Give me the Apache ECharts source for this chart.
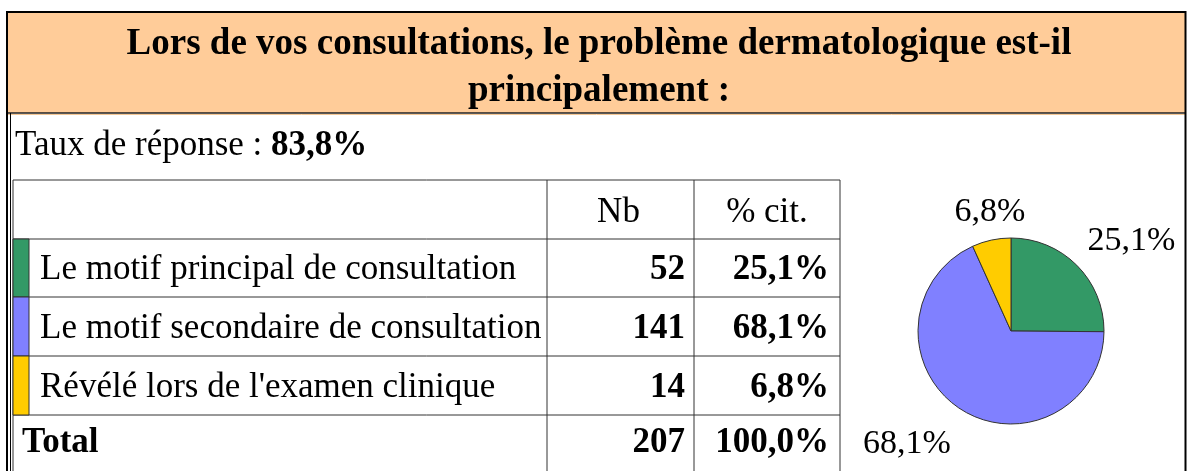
<!DOCTYPE html>
<html>
<head>
<meta charset="utf-8">
<script src="https://cdn.jsdelivr.net/npm/echarts@6/dist/echarts.min.js"></script>
<style>
html, body { margin: 0; padding: 0; background: #fff; }
#chart { width: 1190px; height: 471px; }
</style>
</head>
<body>
<div id="chart"></div>
<script>
// donnees du tableau
var titleLines = ['Lors de vos consultations, le problème dermatologique est-il', 'principalement :'];
var responseLabel = 'Taux de réponse : ';
var responseRate = '83,8%';
var colHeaders = ['Nb', '% cit.'];
var categories = ['Le motif principal de consultation', 'Le motif secondaire de consultation', "Révélé lors de l'examen clinique"];
var counts = [52, 141, 14];
var citPercents = ['25,1%', '68,1%', '6,8%'];
var totalLabel = 'Total';
var totalCount = 207;
var totalPercent = '100,0%';

var sliceColors = ['#339966', '#8080FF', '#FFCC00'];
var labelOffsets = [[19, 11], [-26, -7], [9, 21]];

var FONT = '"Liberation Serif", "Times New Roman", serif';
var colX = [13, 547, 694, 840];
var rowY = [180, 239, 297, 356, 415, 480];

function txt(x, y, s, size, weight, align) {
    return {
        type: 'text', x: x, y: y, silent: true,
        style: {
            text: s, font: (weight || 'normal') + ' ' + size + 'px ' + FONT,
            fill: '#000', align: align || 'left', verticalAlign: 'middle'
        }
    };
}
function line(x1, y1, x2, y2, w, c) {
    return {
        type: 'line', silent: true,
        shape: { x1: x1, y1: y1, x2: x2, y2: y2 },
        style: { stroke: c || '#333', lineWidth: w || 1 }
    };
}

var g = [];
// bandeau titre
g.push({ type: 'rect', shape: { x: 7, y: 12, width: 1178, height: 101 }, style: { fill: '#FFCC99', stroke: null } });
g.push(line(7, 12, 1186, 12, 2, '#000'));
g.push(line(7, 113, 1186, 113, 1.5, '#222'));
g.push(line(7, 114.5, 1186, 114.5, 1, '#F5C896'));
g.push(line(7, 11, 7, 480, 2, '#000'));
g.push(line(10.5, 113, 10.5, 480, 1, '#000'));
g.push(line(1185.5, 11, 1185.5, 480, 2, '#000'));
g.push(txt(599, 44, titleLines[0], 37, 'bold', 'center'));
g.push(txt(599, 91, titleLines[1], 37, 'bold', 'center'));

// taux de reponse
g.push({
    type: 'text', x: 15, y: 146, silent: true,
    style: {
        text: '{a|' + responseLabel + '}{b|' + responseRate + '}',
        verticalAlign: 'middle',
        rich: {
            a: { font: 'normal 35px ' + FONT, fill: '#000' },
            b: { font: 'bold 35px ' + FONT, fill: '#000' }
        }
    }
});

// grille du tableau
for (var r = 0; r < rowY.length; r++) g.push(line(colX[0], rowY[r], colX[3], rowY[r], 1));
for (var c = 0; c < colX.length; c++) g.push(line(colX[c], rowY[0], colX[c], rowY[rowY.length - 1], 1));

g.push(txt((colX[1] + colX[2]) / 2 - 2, 213, colHeaders[0], 35, 'normal', 'center'));
g.push(txt((colX[2] + colX[3]) / 2, 213, colHeaders[1], 35, 'normal', 'center'));

for (var i = 0; i < categories.length; i++) {
    var cy = (rowY[i + 1] + rowY[i + 2]) / 2 + 2;
    g.push({ type: 'rect', silent: true, shape: { x: colX[0], y: rowY[i + 1], width: 16, height: rowY[i + 2] - rowY[i + 1] },
        style: { fill: sliceColors[i], stroke: '#333', lineWidth: 1 } });
    g.push(txt(40, cy, categories[i], 35));
    g.push(txt(colX[2] - 9, cy, String(counts[i]), 35, 'bold', 'right'));
    g.push(txt(colX[3] - 11, cy, citPercents[i], 35, 'bold', 'right'));
}
g.push(txt(22, 443, totalLabel, 35, 'bold'));
g.push(txt(colX[2] - 9, 443, String(totalCount), 35, 'bold', 'right'));
g.push(txt(colX[3] - 11, 443, totalPercent, 35, 'bold', 'right'));

var pieData = categories.map(function (name, i) {
    return { name: name, value: counts[i], itemStyle: { color: sliceColors[i] } };
});
var labelData = categories.map(function (name, i) {
    return { name: name, value: counts[i], label: { offset: labelOffsets[i] } };
});

var chart = echarts.init(document.getElementById('chart'), null, { renderer: 'canvas' });
chart.setOption({
    animation: false,
    backgroundColor: '#fff',
    graphic: g,
    series: [
        {
            type: 'pie',
            center: [1011, 331],
            radius: [0, 93],
            startAngle: 90,
            clockwise: true,
            silent: true,
            label: { show: false },
            labelLine: { show: false },
            itemStyle: { borderColor: '#333', borderWidth: 1 },
            data: pieData
        },
        {
            type: 'pie',
            center: [1011, 331],
            radius: [0, 280],
            startAngle: 90,
            clockwise: true,
            silent: true,
            percentPrecision: 1,
            itemStyle: { color: 'rgba(0,0,0,0)', borderWidth: 0 },
            label: {
                show: true,
                position: 'inside',
                fontFamily: FONT,
                fontSize: 34,
                color: '#000',
                formatter: function (p) {
                    return p.percent.toFixed(1).replace('.', ',') + '%';
                }
            },
            labelLine: { show: false },
            data: labelData
        }
    ]
});
</script>
</body>
</html>
